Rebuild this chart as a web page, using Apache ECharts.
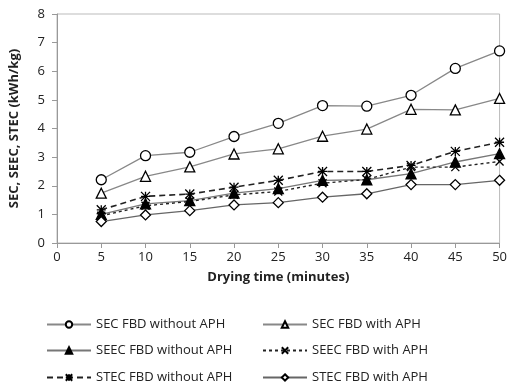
<!DOCTYPE html>
<html><head><meta charset="utf-8">
<script src="https://cdn.jsdelivr.net/npm/echarts@6/dist/echarts.min.js"></script>
<style>html,body{margin:0;padding:0;background:#fff}#c{width:510px;height:388px}</style>
</head><body><div id="c"></div>
<script>
const times = [5,10,15,20,25,30,35,40,45,50];
const secWithout  = [2.21,3.05,3.17,3.72,4.18,4.80,4.78,5.16,6.10,6.71];
const secWith     = [1.74,2.33,2.66,3.11,3.29,3.73,3.98,4.67,4.65,5.05];
const seecWithout = [1.00,1.37,1.48,1.74,1.90,2.19,2.21,2.42,2.83,3.12];
const seecWith    = [0.95,1.30,1.45,1.68,1.80,2.09,2.22,2.65,2.65,2.85];
const stecWithout = [1.16,1.63,1.71,1.95,2.19,2.50,2.50,2.71,3.20,3.52];
const stecWith    = [0.75,0.98,1.13,1.33,1.41,1.60,1.72,2.04,2.04,2.19];
const names = ['SEC FBD without APH','SEC FBD with APH','SEEC FBD without APH','SEEC FBD with APH','STEC FBD without APH','STEC FBD with APH'];

const pair = arr => times.map((t,i)=>[t,arr[i]]);
const FONT = 'Open Sans';
const xPath = 'path://M0,0L10,10M10,0L0,10';
const astPath = 'path://M0,0L10,10M10,0L0,10M5,0L5,10M0,5L10,5';

function mk(name, data, symbol, size, fill, lineColor, lineType, lw){
  return {
    name, type:'line', data: pair(data), symbol, symbolSize:size,
    lineStyle:{color:lineColor, width:lw, type:lineType},
    itemStyle:{color:fill, borderColor:'#000', borderWidth:1.3},
    emphasis:{disabled:true}, animation:false, z: 3
  };
}
const series = [
  mk(names[0], secWithout, 'circle', 10, '#fff', '#888', 'solid', 1.3),
  mk(names[1], secWith, 'triangle', 10, '#fff', '#888', 'solid', 1.3),
  mk(names[2], seecWithout, 'triangle', 10, '#000', '#777', 'solid', 1.3),
  mk(names[3], seecWith, xPath, 8, 'none', '#222', [3,3], 1.4),
  mk(names[4], stecWithout, astPath, 9, 'none', '#222', [6,4], 1.6),
  mk(names[5], stecWith, 'diamond', 10, '#fff', '#666', 'solid', 1.3)
];

const chart = echarts.init(document.getElementById('c'), null, {renderer:'canvas'});
const legendBase = {orient:'horizontal', itemWidth:44, itemHeight:8, padding:0,
  textStyle:{fontFamily:FONT, fontSize:13, color:'#222'}, selectedMode:false};
const legPos = [[46,318],[262,318],[46,344],[262,344],[46,371],[262,371]];
const legends = names.map((n,i)=>Object.assign({}, legendBase, {left:legPos[i][0], top:legPos[i][1], data:[n]}));
chart.setOption({
  backgroundColor:'#fff',
  animation:false,
  grid:{left:57, right:9, top:14, bottom:145, show:true, borderColor:'#bbb', borderWidth:1},
  xAxis:{type:'value', min:0, max:50, interval:5,
    name:'Drying time (minutes)', nameLocation:'middle', nameGap:28,
    nameTextStyle:{fontFamily:FONT, fontSize:13, fontWeight:'bold', color:'#222'},
    axisLine:{lineStyle:{color:'#999'}}, axisTick:{show:true, length:5, lineStyle:{color:'#999'}},
    axisLabel:{fontFamily:FONT, fontSize:13, color:'#222', margin:8}, splitLine:{show:false}},
  yAxis:{type:'value', min:0, max:8, interval:1,
    name:'SEC, SEEC, STEC (kWh/kg)', nameLocation:'middle', nameGap:36,
    nameTextStyle:{fontFamily:FONT, fontSize:13, fontWeight:'bold', color:'#222'},
    axisLine:{show:true, lineStyle:{color:'#999'}}, axisTick:{show:true, length:5, lineStyle:{color:'#999'}},
    axisLabel:{fontFamily:FONT, fontSize:13, color:'#222', margin:12}, splitLine:{show:false}},
  legend: legends,
  series
});
</script></body></html>
